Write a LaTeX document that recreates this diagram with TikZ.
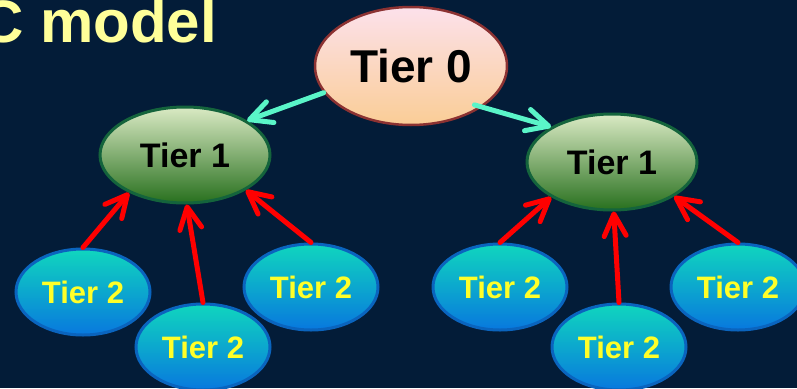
\documentclass[tikz,border=0pt]{standalone}
\usepackage{fontspec}
\setmainfont{Liberation Sans}
\usepackage{tikz}
\usetikzlibrary{arrows.meta,positioning,shapes.geometric}

\definecolor{bgnavy}{RGB}{3,28,56}
\definecolor{titleyellow}{RGB}{255,255,153}
\definecolor{tieryellow}{RGB}{255,255,40}
\definecolor{linkcyan}{RGB}{90,245,200}
\definecolor{linkred}{RGB}{255,0,0}
\definecolor{zerotop}{RGB}{252,225,235}
\definecolor{zeromid}{RGB}{244,155,100}
\definecolor{zerobot}{RGB}{250,205,150}
\definecolor{zeroline}{RGB}{140,50,50}
\definecolor{onetop}{RGB}{218,234,196}
\definecolor{onebot}{RGB}{40,112,30}
\definecolor{oneline}{RGB}{20,100,60}
\definecolor{twotop}{RGB}{16,214,190}
\definecolor{twobot}{RGB}{8,120,222}
\definecolor{twoline}{RGB}{10,100,190}

\begin{document}
\begin{tikzpicture}[x=1pt,y=-1pt,>={Straight Barb[length=22pt,width=22pt,round]},
    tierzero/.style={ellipse,draw=zeroline,line width=2.5pt,minimum width=192pt,minimum height=118pt,inner sep=0pt,
      top color=zerotop,middle color=zeromid,bottom color=zerobot,font=\bfseries\fontsize{46}{50}\selectfont},
    tierone/.style={ellipse,draw=oneline,line width=3pt,minimum width=170pt,minimum height=96pt,inner sep=0pt,
      top color=onetop,bottom color=onebot,font=\bfseries\fontsize{34}{38}\selectfont},
    tiertwo/.style={ellipse,draw=twoline,line width=3pt,minimum width=134pt,minimum height=86pt,inner sep=0pt,
      top color=twotop,bottom color=twobot,text=tieryellow,font=\bfseries\fontsize{31}{35}\selectfont},
    uplink/.style={->,linkred,line width=5pt,line cap=round},
    downlink/.style={->,linkcyan,line width=5pt,line cap=round}]
    \clip (0,0) rectangle (797,388);
    \fill[bgnavy] (0,0) rectangle (797,388);
    % title, cut at the left edge
    \node[anchor=base east,inner sep=0pt,text=titleyellow,font=\bfseries\fontsize{60}{64}\selectfont] (title) at (217,42) {C model};
    % tiers 0 and 1
    \node[tierzero] (t0) at (411,66) {Tier 0};
    \node[tierone] (t1a) at (185,155) {Tier 1};
    \node[tierone] (t1b) at (612,162) {Tier 1};
    % tier 2 nodes
    \foreach \n/\x/\y in {a/83/292,b/203/347,c/311/287,d/500/287,e/619/347,f/738/287} {
      \node[tiertwo] (t2\n) at (\x,\y) {Tier 2};
    }
    % links down from tier 0
    \draw[downlink] (t0.197) -- (t1a.29);
    \draw[downlink,shorten <=-8pt] (t0.330) -- (t1b.150);
    % links up from tier 2
    \foreach \n/\a in {a/214,b/272,c/330} {
      \draw[uplink] (t2\n.north) -- (t1a.\a);
    }
    \foreach \n/\a in {d/210,e/272,f/331} {
      \draw[uplink] (t2\n.north) -- (t1b.\a);
    }
  \end{tikzpicture}
\end{document}
